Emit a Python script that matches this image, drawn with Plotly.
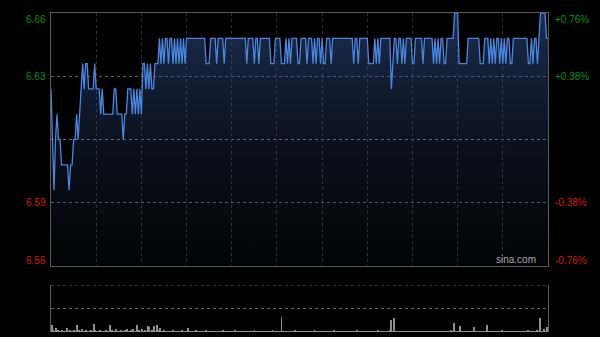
import plotly.graph_objects as go

# ---- data ----
prev_close = 6.61
y_min, y_max = 6.56, 6.66
price_ticks = [6.66, 6.635, 6.585, 6.56]
price_labels = ["6.66", "6.63", "6.59", "6.56"]
pct_labels = ["+0.76%", "+0.38%", "-0.38%", "-0.76%"]
grid_minutes = [30, 60, 90, 120, 150, 180, 210, 240, 270, 300]

prices = [
    6.63, 6.61, 6.59, 6.61, 6.62, 6.61, 6.61, 6.60, 6.60, 6.60,
    6.60, 6.60, 6.59, 6.60, 6.60, 6.61, 6.61, 6.62, 6.61, 6.62,
    6.63, 6.64, 6.63, 6.64, 6.64, 6.63, 6.63, 6.63, 6.63, 6.64,
    6.63, 6.63, 6.63, 6.62, 6.63, 6.62, 6.62, 6.62, 6.62, 6.62,
    6.62, 6.62, 6.63, 6.63, 6.62, 6.62, 6.62, 6.62, 6.61, 6.62,
    6.62, 6.63, 6.63, 6.63, 6.62, 6.63, 6.62, 6.63, 6.62, 6.63,
    6.62, 6.64, 6.64, 6.63, 6.64, 6.63, 6.64, 6.63, 6.63, 6.64,
    6.64, 6.64, 6.65, 6.64, 6.65, 6.64, 6.65, 6.65, 6.64, 6.65,
    6.65, 6.64, 6.65, 6.64, 6.65, 6.64, 6.65, 6.64, 6.65, 6.64,
    6.65, 6.65, 6.65, 6.65, 6.65, 6.65, 6.65, 6.65, 6.65, 6.65,
    6.65, 6.65, 6.65, 6.64, 6.64, 6.64, 6.65, 6.65, 6.65, 6.65,
    6.64, 6.65, 6.65, 6.65, 6.65, 6.64, 6.65, 6.65, 6.65, 6.65,
    6.65, 6.65, 6.65, 6.65, 6.65, 6.65, 6.65, 6.65, 6.65, 6.65,
    6.64, 6.65, 6.65, 6.65, 6.65, 6.64, 6.65, 6.65, 6.64, 6.65,
    6.65, 6.65, 6.65, 6.65, 6.65, 6.65, 6.64, 6.64, 6.64, 6.65,
    6.65, 6.65, 6.65, 6.64, 6.64, 6.64, 6.65, 6.64, 6.65, 6.64,
    6.65, 6.65, 6.65, 6.65, 6.64, 6.64, 6.65, 6.65, 6.65, 6.65,
    6.64, 6.65, 6.65, 6.65, 6.64, 6.65, 6.64, 6.65, 6.65, 6.64,
    6.65, 6.64, 6.64, 6.65, 6.65, 6.65, 6.64, 6.65, 6.65, 6.65,
    6.65, 6.65, 6.65, 6.65, 6.65, 6.65, 6.65, 6.65, 6.65, 6.65,
    6.65, 6.64, 6.65, 6.65, 6.64, 6.65, 6.65, 6.65, 6.65, 6.65,
    6.65, 6.64, 6.64, 6.64, 6.64, 6.65, 6.64, 6.65, 6.64, 6.65,
    6.65, 6.65, 6.65, 6.65, 6.65, 6.65, 6.63, 6.64, 6.65, 6.65,
    6.64, 6.65, 6.65, 6.64, 6.65, 6.64, 6.65, 6.65, 6.65, 6.65,
    6.64, 6.64, 6.65, 6.65, 6.65, 6.65, 6.65, 6.64, 6.65, 6.65,
    6.65, 6.65, 6.65, 6.65, 6.64, 6.65, 6.64, 6.65, 6.64, 6.65,
    6.65, 6.64, 6.64, 6.65, 6.65, 6.65, 6.65, 6.65, 6.66, 6.66,
    6.66, 6.64, 6.64, 6.64, 6.64, 6.64, 6.64, 6.65, 6.65, 6.65,
    6.65, 6.65, 6.65, 6.65, 6.65, 6.64, 6.64, 6.64, 6.65, 6.65,
    6.65, 6.64, 6.65, 6.64, 6.65, 6.64, 6.65, 6.65, 6.64, 6.65,
    6.64, 6.65, 6.64, 6.65, 6.65, 6.64, 6.64, 6.65, 6.65, 6.65,
    6.65, 6.65, 6.65, 6.65, 6.65, 6.65, 6.65, 6.64, 6.64, 6.65,
    6.64, 6.65, 6.65, 6.64, 6.65, 6.66, 6.66, 6.66, 6.66, 6.65,
    6.65,
]

volumes = [
    7, 2, 1, 4, 2, 1, 1, 2, 1, 1,
    4, 1, 2, 1, 1, 2, 1, 7, 2, 1,
    3, 1, 1, 2, 1, 1, 2, 1, 8, 2,
    1, 1, 2, 1, 1, 1, 2, 1, 1, 7,
    2, 1, 1, 3, 1, 1, 2, 1, 1, 2,
    3, 1, 1, 2, 3, 1, 1, 7, 2, 1,
    3, 1, 2, 1, 6, 5, 1, 2, 6, 1,
    7, 2, 4, 1, 1, 2, 1, 1, 1, 1,
    1, 2, 1, 1, 1, 1, 1, 2, 1, 1,
    1, 4, 1, 1, 1, 1, 2, 1, 1, 1,
    1, 1, 1, 2, 1, 1, 1, 1, 1, 1,
    1, 1, 1, 1, 2, 1, 1, 1, 1, 1,
    1, 1, 2, 1, 1, 1, 1, 1, 1, 1,
    1, 1, 1, 1, 1, 2, 1, 1, 1, 1,
    1, 1, 1, 1, 1, 1, 1, 2, 1, 1,
    1, 1, 1, 15, 1, 1, 1, 1, 1, 1,
    1, 1, 2, 1, 1, 1, 1, 1, 1, 1,
    1, 1, 1, 1, 1, 2, 1, 1, 1, 1,
    1, 1, 1, 1, 1, 1, 1, 1, 2, 1,
    1, 1, 1, 1, 1, 1, 1, 1, 1, 1,
    1, 1, 1, 2, 1, 1, 1, 1, 1, 1,
    1, 1, 1, 1, 1, 1, 1, 2, 1, 1,
    1, 1, 1, 1, 1, 2, 12, 1, 14, 1,
    1, 1, 1, 1, 1, 1, 1, 1, 1, 1,
    1, 1, 1, 1, 1, 1, 1, 1, 1, 1,
    1, 1, 1, 1, 1, 1, 1, 1, 1, 1,
    1, 1, 1, 1, 1, 1, 2, 1, 9, 1,
    1, 1, 6, 1, 1, 1, 1, 1, 1, 1,
    1, 5, 1, 1, 1, 1, 1, 1, 1, 1,
    7, 1, 1, 1, 1, 1, 1, 1, 1, 1,
    2, 1, 1, 1, 1, 1, 1, 1, 1, 1,
    1, 1, 1, 1, 1, 1, 1, 2, 1, 1,
    1, 1, 1, 2, 1, 14, 1, 1, 3, 1,
    5,
]
vol_max = 47

minutes = list(range(len(prices)))
n_last = len(prices) - 1

# ---- styles ----
GREEN = "#0f8f0f"
RED = "#d01a0c"
FONT = "Arial, Liberation Sans, sans-serif"
BORDER = "#5a5a5a"

fig = go.Figure()

# baseline for the gradient fill
fig.add_trace(go.Scatter(
    x=minutes, y=[y_min] * len(minutes), mode="lines",
    line=dict(width=0, color="rgba(0,0,0,0)"), hoverinfo="skip",
    showlegend=False, xaxis="x", yaxis="y"))
fig.add_trace(go.Scatter(
    x=minutes, y=prices, mode="lines", fill="tonexty",
    fillgradient=dict(type="vertical", start=y_min, stop=y_max,
                      colorscale=[[0, "rgba(50,80,140,0.04)"],
                                  [0.5, "rgba(50,80,140,0.22)"],
                                  [1, "rgba(55,90,160,0.50)"]]),
    line=dict(color="#4b86df", width=1.3), hoverinfo="skip",
    showlegend=False, xaxis="x", yaxis="y"))

fig.add_trace(go.Bar(
    x=minutes, y=volumes, width=0.6,
    marker=dict(color="#8e8e8e", line=dict(width=0)),
    showlegend=False, hoverinfo="skip", xaxis="x2", yaxis="y3"))

main_dom = [66 / 319, 1.0]
vol_dom = [0.0, 47 / 319]

fig.update_layout(
    width=600, height=337, autosize=False,
    margin=dict(l=51, r=52, t=13, b=5, pad=0),
    paper_bgcolor="#000000", plot_bgcolor="#000000",
    font=dict(family=FONT, size=10, color="#aaaaaa"),
    xaxis=dict(domain=[0, 1], range=[0, n_last], anchor="y",
               tickvals=grid_minutes, showticklabels=False, ticks="",
               showgrid=True, gridcolor="#2f2f2f", griddash="dot", gridwidth=1,
               zeroline=False, showline=True, linecolor=BORDER, linewidth=1,
               mirror=True),
    yaxis=dict(domain=main_dom, range=[y_min, y_max], anchor="x",
               tickvals=[price_ticks[1], price_ticks[2]], showticklabels=False,
               ticks="", showgrid=True, gridcolor="#5e5e5e", griddash="dot",
               gridwidth=1, zeroline=False, showline=True, linecolor=BORDER,
               linewidth=1, mirror=True),
    xaxis2=dict(domain=[0, 1], range=[-0.5, n_last + 0.5], anchor="y3",
                showticklabels=False, ticks="", showgrid=False,
                zeroline=False, showline=False),
    yaxis3=dict(domain=vol_dom, range=[0, vol_max], anchor="x2",
                tickvals=[vol_max / 2], showticklabels=False,
                ticks="", showgrid=True, gridcolor="#666666", griddash="dot",
                zeroline=False, showline=True, linecolor=BORDER, linewidth=1,
                mirror=True),
    bargap=0,
)

# previous close reference line
fig.add_shape(type="line", xref="x", yref="y", x0=0, x1=n_last,
              y0=prev_close, y1=prev_close,
              line=dict(color="#707070", width=1.2, dash="dot"),
              layer="below")
# top border of volume panel (dotted)
fig.add_shape(type="line", xref="x2 domain", yref="y3", x0=0, x1=1,
              y0=vol_max, y1=vol_max,
              line=dict(color="#666666", width=1, dash="dot"))

# axis labels
shifts = [-6, 0, 0, 6]
colors = [GREEN, GREEN, RED, RED]
for val, lab, pct, sh, col in zip(price_ticks, price_labels, pct_labels,
                                  shifts, colors):
    fig.add_annotation(xref="paper", yref="y", x=0, y=val, text=lab,
                       showarrow=False, xanchor="right", yanchor="middle",
                       xshift=-3, yshift=sh,
                       font=dict(family=FONT, size=10, color=col))
    fig.add_annotation(xref="paper", yref="y", x=1, y=val, text=pct,
                       showarrow=False, xanchor="left", yanchor="middle",
                       xshift=5, yshift=sh,
                       font=dict(family=FONT, size=10, color=col))

fig.add_annotation(xref="paper", yref="y", x=1, y=y_min, text="sina.com",
                   showarrow=False, xanchor="right", yanchor="bottom",
                   xshift=-10, yshift=-1,
                   font=dict(family=FONT, size=10, color="#a8a8a8"))

fig.write_html("out.html")
